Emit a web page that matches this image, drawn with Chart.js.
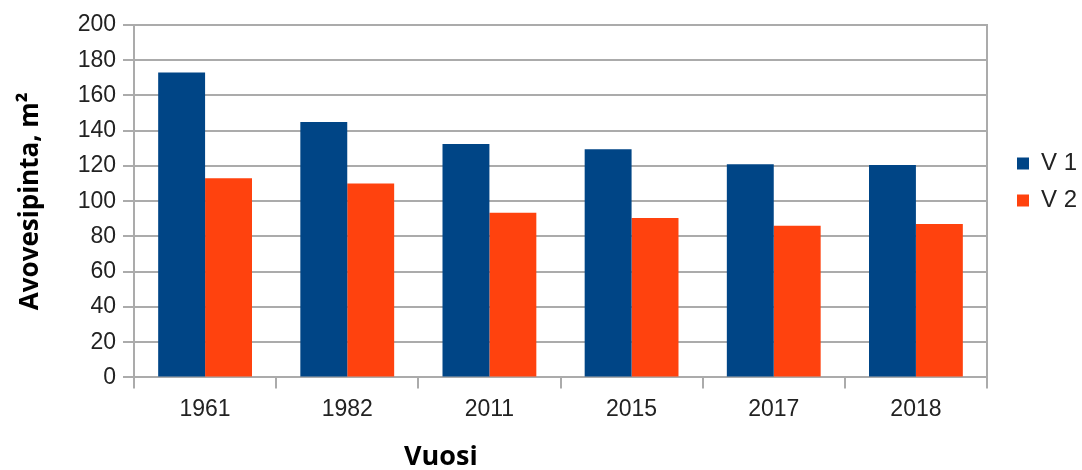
<!DOCTYPE html>
<html>
<head>
<meta charset="utf-8">
<script src="https://cdn.jsdelivr.net/npm/chart.js@4/dist/chart.umd.min.js"></script>
<style>
  html, body { margin: 0; padding: 0; background: #ffffff; }
  #wrap { width: 1082px; height: 470px; position: relative; }
</style>
</head>
<body>
<div id="wrap"><canvas id="c" width="1082" height="470"></canvas></div>
<script>
const categories = ['1961', '1982', '2011', '2015', '2017', '2018'];
const seriesNames = ['V 1', 'V 2'];
const v1 = [173, 145, 132.5, 129.5, 121, 120.5];
const v2 = [113, 110, 93.5, 90.5, 86, 87];
const yMin = 0;
const yMax = 200;
const yStep = 20;
const yTitle = 'Avovesipinta, m²';
const xTitle = 'Vuosi';

const GRID = '#ababab';
const TICK_FONT = { family: "'Liberation Sans', Arial, sans-serif", size: 23 };
const TITLE_FONT = { family: "'Open Sans', sans-serif", size: 26, weight: 'bold' };

const xTitlePlugin = {
  id: 'xTitlePlugin',
  afterDraw(chart) {
    const ctx = chart.ctx;
    ctx.save();
    ctx.font = 'bold 27px "Open Sans", sans-serif';
    ctx.fillStyle = '#000';
    ctx.textAlign = 'left';
    ctx.textBaseline = 'alphabetic';
    ctx.fillText(xTitle, 404, 465);
    ctx.restore();
  }
};

new Chart(document.getElementById('c'), {
  type: 'bar',
  data: {
    labels: categories,
    datasets: [
      { label: seriesNames[0], data: v1, backgroundColor: '#004586', borderWidth: 0 },
      { label: seriesNames[1], data: v2, backgroundColor: '#ff420e', borderWidth: 0 }
    ]
  },
  options: {
    responsive: false,
    animation: false,
    devicePixelRatio: 1,
    datasets: { bar: { categoryPercentage: 0.66, barPercentage: 1.0 } },
    layout: { padding: { top: 25, left: 0, right: 0, bottom: 40 } },
    plugins: {
      tooltip: { enabled: false },
      legend: {
        position: 'right',
        align: 'start',
        maxWidth: 78,
        title: { display: true, text: ' ', font: { size: 10 }, padding: { top: 101.5, bottom: 0 } },
        labels: {
          boxWidth: 12,
          boxHeight: 12,
          padding: 13,
          color: '#222',
          font: { family: "'Liberation Sans', Arial, sans-serif", size: 24 }
        }
      }
    },
    scales: {
      x: {
        grid: { drawOnChartArea: false, drawTicks: true, tickLength: 11, color: GRID, lineWidth: 2, offset: true },
        border: { display: true, color: GRID, width: 2 },
        ticks: { font: TICK_FONT, color: '#222', padding: 7 }
      },
      y: {
        min: yMin,
        max: yMax,
        ticks: { stepSize: yStep, font: TICK_FONT, color: '#222', padding: 7 },
        grid: { color: GRID, lineWidth: 2, tickLength: 11 },
        border: { display: true, color: GRID, width: 2 },
        title: { display: true, text: yTitle, font: TITLE_FONT, color: '#000', padding: { top: 15, bottom: 0 } },
        afterFit(scale) { scale.width = 134; }
      },
      y2: {
        type: 'linear',
        position: 'right',
        display: true,
        grid: { display: false },
        ticks: { display: false },
        border: { display: true, color: GRID, width: 2 },
        afterFit(scale) { scale.width = 17; }
      }
    }
  },
  plugins: [xTitlePlugin]
});
</script>
</body>
</html>
